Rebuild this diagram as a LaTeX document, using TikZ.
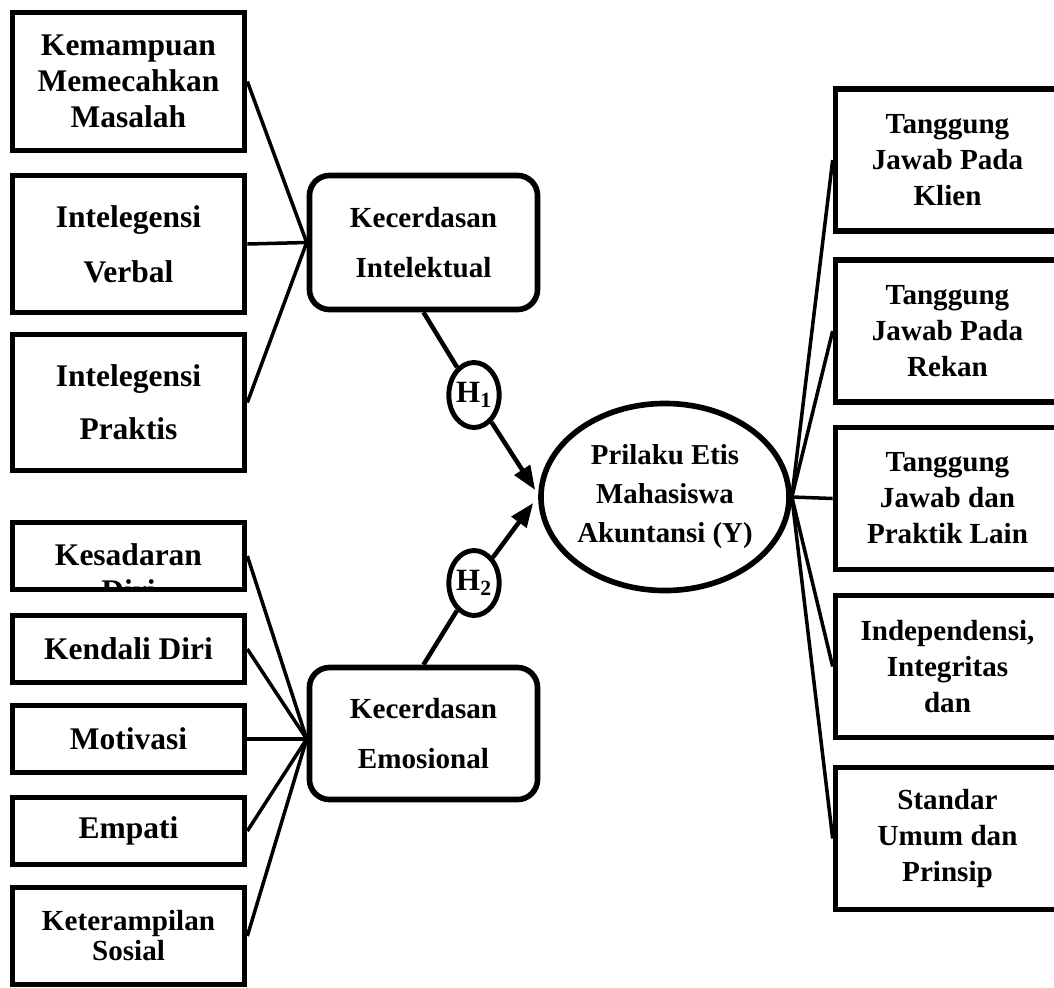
\documentclass[tikz,border=0pt]{standalone}
\usepackage{fontspec}
\setmainfont{Liberation Serif}
\usetikzlibrary{arrows.meta,positioning,shapes.geometric}

\begin{document}
\begin{tikzpicture}[x=0.025cm, y=-0.025cm,
  ind/.style={draw, line width=4pt, minimum width=5.8cm, inner sep=0pt, align=center,
              font=\bfseries\fontsize{22.4}{25.6}\selectfont},
  lat/.style={draw, line width=4pt, rounded corners=0.5cm, minimum width=5.7cm, inner sep=0pt,
              align=center, font=\bfseries\fontsize{20.7}{35.6}\selectfont},
  dep/.style={draw, ellipse, line width=4pt, minimum width=6.125cm, minimum height=4.675cm,
              inner sep=0pt, align=center, font=\bfseries\fontsize{20.5}{27.7}\selectfont},
  rbox/.style={draw, line width=4pt, minimum width=5.6cm, minimum height=3.55cm, inner sep=0pt,
               align=center, font=\bfseries\fontsize{20.7}{25.6}\selectfont},
  hyp/.style={draw, ellipse, line width=3.5pt, minimum width=1.25cm, minimum height=1.625cm,
              inner sep=0pt, fill=white, font=\bfseries\fontsize{22}{22}\selectfont},
  link/.style={line width=2.5pt},
  arrow/.style={line width=3.2pt, -{Triangle[length=0.6cm, width=0.45cm]}}
]
  \useasboundingbox (0,0) rectangle (1054,988);

  % Kecerdasan Intelektual
  \node[ind, minimum height=3.45cm] (kmm) at (128.5,81.5) {Kemampuan\\Memecahkan\\Masalah};
  \node[ind, minimum height=3.425cm, font=\bfseries\fontsize{22.4}{39}\selectfont] (ivb) at (128.5,244) {Intelegensi\\Verbal};
  \node[ind, minimum height=3.4cm, font=\bfseries\fontsize{22.4}{38}\selectfont] (ipr) at (128.5,402.5) {Intelegensi\\Praktis};
  \node[lat, minimum height=3.35cm] (kint) at (423.5,242.5) {Kecerdasan\\Intelektual};

  % Kecerdasan Emosional
  \node[ind, minimum height=1.675cm] (ksd) at (128.5,556) {};
  \begin{scope}
    \clip ([shift={(4pt,-4pt)}]ksd.north west) rectangle ([shift={(-4pt,4pt)}]ksd.south east);
    \node[anchor=base, align=center, inner sep=0pt, font=\bfseries\fontsize{22.4}{25.6}\selectfont] (ksdtxt) at (128.5,601) {Kesadaran\\Diri};
  \end{scope}
  \node[ind, minimum height=1.675cm] (kdr) at (128.5,649) {Kendali Diri};
  \node[ind, minimum height=1.675cm] (mot) at (128.5,739) {Motivasi};
  \node[ind, minimum height=1.675cm] (emp) at (128.5,831) {Empati};
  \node[ind, minimum height=2.425cm, font=\bfseries\fontsize{20.7}{21.3}\selectfont] (kso) at (128.5,936) {Keterampilan\\Sosial};
  \node[lat, minimum height=3.3cm] (kemo) at (423.5,733.5) {Kecerdasan\\Emosional};

  % Prilaku Etis
  \node[dep] (pem) at (665,497) {Prilaku Etis\\Mahasiswa\\Akuntansi (Y)};
  \node[rbox] (tjk) at (947.5,160) {Tanggung\\Jawab Pada\\Klien};
  \node[rbox] (tjr) at (947.5,331) {Tanggung\\Jawab Pada\\Rekan};
  \node[rbox] (tjp) at (947.5,498.5) {Tanggung\\Jawab dan\\Praktik Lain};
  \node[rbox] (iid) at (947.5,666.5) {Independensi,\\Integritas\\dan};
  \node[rbox] (sup) at (947.5,838.5) {Standar\\Umum dan\\Prinsip};

  % Hipotesis
  \node[hyp] (h1) at (474,395) {H\textsubscript{1}};
  \node[hyp] (h2) at (474,583) {H\textsubscript{2}};
  \coordinate (t1) at ([xshift=-0.075cm, yshift=0.175cm]pem.west);
  \coordinate (t2) at ([xshift=-0.125cm, yshift=-0.15cm]pem.west);
  \coordinate (ein) at (kemo.west |- mot.east);

  % Garis
  \foreach \b in {kmm, ivb, ipr} \draw[link] (\b.east) -- (kint.west);
  \foreach \b in {ksd, kdr, mot, emp, kso} \draw[link] (\b.east) -- (ein);
  \foreach \b in {tjk, tjr, tjp, iid, sup} \draw[link] (pem.east) -- (\b.west);
  \draw[arrow] (kint.south) -- (h1) -- (t1);
  \draw[arrow] (kemo.north) -- (h2) -- (t2);
\end{tikzpicture}
\end{document}
